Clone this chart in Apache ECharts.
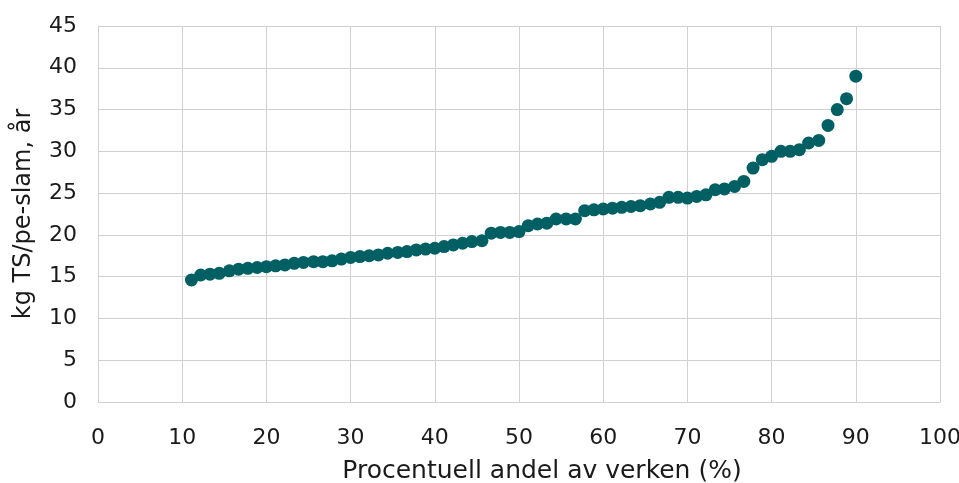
<!DOCTYPE html>
<html>
<head>
<meta charset="utf-8">
<script src="https://cdn.jsdelivr.net/npm/echarts@6/dist/echarts.min.js"></script>
<style>html,body{margin:0;padding:0;background:#fff}#c{width:959px;height:483px}</style>
</head>
<body>
<div id="c"></div>
<script>
const xValues = [11.1, 12.2, 13.3, 14.4, 15.6, 16.7, 17.8, 18.9, 20.0, 21.1, 22.2, 23.3, 24.4, 25.6, 26.7, 27.8, 28.9, 30.0, 31.1, 32.2, 33.3, 34.4, 35.6, 36.7, 37.8, 38.9, 40.0, 41.1, 42.2, 43.3, 44.4, 45.6, 46.7, 47.8, 48.9, 50.0, 51.1, 52.2, 53.3, 54.4, 55.6, 56.7, 57.8, 58.9, 60.0, 61.1, 62.2, 63.3, 64.4, 65.6, 66.7, 67.8, 68.9, 70.0, 71.1, 72.2, 73.3, 74.4, 75.6, 76.7, 77.8, 78.9, 80.0, 81.1, 82.2, 83.3, 84.4, 85.6, 86.7, 87.8, 88.9, 90.0];
const yValues = [14.6, 15.2, 15.3, 15.4, 15.7, 15.9, 16.0, 16.1, 16.2, 16.3, 16.4, 16.6, 16.7, 16.8, 16.8, 16.9, 17.1, 17.3, 17.4, 17.5, 17.6, 17.8, 17.9, 18.0, 18.2, 18.3, 18.4, 18.6, 18.8, 19.0, 19.2, 19.3, 20.2, 20.3, 20.3, 20.4, 21.1, 21.3, 21.4, 21.9, 21.9, 21.9, 22.9, 23.0, 23.1, 23.2, 23.3, 23.4, 23.5, 23.7, 23.9, 24.5, 24.5, 24.4, 24.6, 24.8, 25.4, 25.5, 25.8, 26.4, 28.0, 29.0, 29.4, 30.0, 30.0, 30.2, 31.0, 31.3, 33.1, 35.0, 36.3, 39.0];
const xAxisTitle = 'Procentuell andel av verken (%)';
const yAxisTitle = 'kg TS/pe-slam, år';

const points = xValues.map((x, i) => [x, yValues[i]]);
const font = 'DejaVu Sans';
const chart = echarts.init(document.getElementById('c'), null, {renderer: 'canvas'});
chart.setOption({
  animation: false,
  backgroundColor: '#ffffff',
  grid: {left: 98, right: 19, top: 26, bottom: 81, containLabel: false, outerBoundsMode: 'none'},
  xAxis: {
    type: 'value', min: 0, max: 100, interval: 10,
    name: xAxisTitle, nameLocation: 'middle', nameGap: 57,
    nameTextStyle: {fontFamily: font, fontSize: 25, color: '#1a1a1a', padding: [0, 0, 0, 46]},
    axisLine: {show: true, lineStyle: {color: '#d0d0d0', width: 1}},
    axisTick: {show: false},
    axisLabel: {fontFamily: font, fontSize: 22, color: '#1a1a1a', margin: 25},
    splitLine: {show: true, lineStyle: {color: '#d0d0d0', width: 1}}
  },
  yAxis: {
    type: 'value', min: 0, max: 45, interval: 5,
    name: yAxisTitle, nameLocation: 'middle', nameGap: 62, nameRotate: 90,
    nameTextStyle: {fontFamily: font, fontSize: 24, color: '#1a1a1a'},
    axisLine: {show: true, lineStyle: {color: '#d0d0d0', width: 1}},
    axisTick: {show: false},
    axisLabel: {fontFamily: font, fontSize: 22, color: '#1a1a1a', margin: 21},
    splitLine: {show: true, lineStyle: {color: '#d0d0d0', width: 1}}
  },
  series: [{
    type: 'scatter',
    data: points,
    symbol: 'circle',
    symbolSize: 13,
    itemStyle: {color: '#005F63', opacity: 1}
  }]
});
</script>
</body>
</html>
